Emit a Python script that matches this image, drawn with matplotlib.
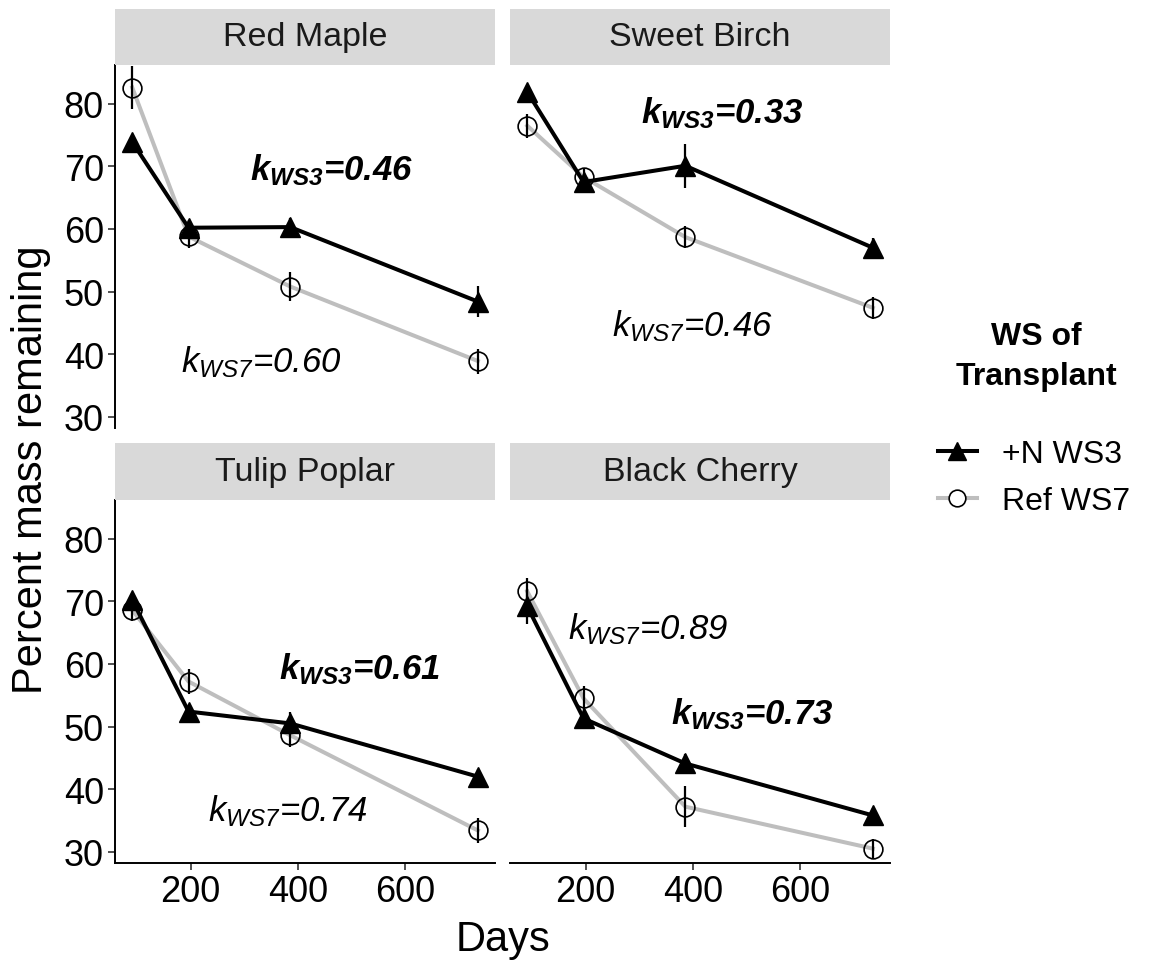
import matplotlib
matplotlib.use("Agg")
import matplotlib.pyplot as plt
from matplotlib.lines import Line2D

plt.rcParams['font.family'] = ['Liberation Sans', 'DejaVu Sans']
plt.rcParams['mathtext.fontset'] = 'custom'
plt.rcParams['mathtext.rm'] = 'Liberation Sans'
plt.rcParams['mathtext.sf'] = 'Liberation Sans:italic'
plt.rcParams['mathtext.bf'] = 'Liberation Sans:italic:bold'

# sampling days and species (facet order)
days = [91, 196, 386, 736]
species = ['Red Maple', 'Sweet Birch', 'Tulip Poplar', 'Black Cherry']

# +N WS3 transplant: mean percent mass remaining and SE
ws3_mean = [[73.9, 60.2, 60.3, 48.4],
            [81.9, 67.5, 70.1, 57.0],
            [70.2, 52.4, 50.5, 42.0],
            [69.2, 51.3, 44.1, 35.8]]
ws3_se = [[1.0, 1.2, 1.5, 2.5],
          [0.8, 1.3, 3.5, 1.5],
          [1.0, 1.0, 1.8, 1.2],
          [2.8, 1.5, 1.5, 1.2]]

# Ref WS7 transplant
ws7_mean = [[82.6, 58.8, 50.8, 38.9],
            [76.5, 68.3, 58.7, 47.4],
            [68.6, 57.2, 48.6, 33.4],
            [71.6, 54.5, 37.2, 30.5]]
ws7_se = [[3.5, 1.8, 2.3, 2.0],
          [1.9, 1.5, 1.8, 1.8],
          [1.7, 2.0, 1.8, 2.0],
          [2.2, 2.0, 3.3, 1.5]]

# decay constants
k_ws3 = ['0.46', '0.33', '0.61', '0.73']
k_ws7 = ['0.60', '0.46', '0.74', '0.89']

# where the k labels sit in each panel (days, percent)
k_ws3_pos = [(464, 69.6), (455, 78.6), (516, 59.4), (511, 52.2)]
k_ws7_pos = [(332, 38.9), (399, 44.7), (381, 36.6), (317, 65.8)]

W, H = 1151, 962
fig = plt.figure(figsize=(W / 100, H / 100), dpi=100)

panel_x = [115, 510, 115, 510]
panel_top = [66, 66, 501, 501]
strip_top = [10, 10, 444, 444]
pw, ph = 380, 363

for i, name in enumerate(species):
    x0 = panel_x[i]
    ax = fig.add_axes([x0 / W, (H - panel_top[i] - ph) / H, pw / W, ph / H])

    ax.plot(days, ws7_mean[i], color='#BEBEBE', lw=2.9, zorder=2)
    ax.plot(days, ws3_mean[i], color='black', lw=2.9, zorder=3)
    ax.plot(days, ws7_mean[i], 'o', mfc='none', mec='black', ms=13.5,
            mew=1.2, zorder=4)
    ax.plot(days, ws3_mean[i], '^', color='black', ms=14, zorder=5)
    ax.errorbar(days, ws7_mean[i], yerr=ws7_se[i], fmt='none',
                ecolor='black', elinewidth=1.6, capsize=0, zorder=6)
    ax.errorbar(days, ws3_mean[i], yerr=ws3_se[i], fmt='none',
                ecolor='black', elinewidth=1.6, capsize=0, zorder=6)

    ax.text(*k_ws3_pos[i], r'$\mathbf{k_{WS3}}$=' + k_ws3[i],
            fontsize=25, fontweight='bold', style='italic',
            ha='center', va='center', zorder=7)
    ax.text(*k_ws7_pos[i], r'$\mathsf{k_{WS7}}$=' + k_ws7[i],
            fontsize=25, style='italic', ha='center', va='center', zorder=7)

    ax.set_xlim(58.8, 768)
    ax.set_ylim(28.2, 86.2)
    ax.set_xticks([200, 400, 600])
    ax.set_yticks([30, 40, 50, 60, 70, 80])
    ax.tick_params(labelsize=26, length=5, width=1.2, color='#333333',
                   labelcolor='black', pad=3)
    for s in ['top', 'right']:
        ax.spines[s].set_visible(False)
    for s in ['left', 'bottom']:
        ax.spines[s].set_linewidth(1.4)
    if i < 2:
        ax.spines['bottom'].set_visible(False)
        ax.tick_params(axis='x', bottom=False, labelbottom=False)
    if i % 2 == 1:
        ax.spines['left'].set_visible(False)
        ax.tick_params(axis='y', left=False, labelleft=False)

    # facet strip
    sh = panel_top[i] - strip_top[i]
    sax = fig.add_axes([x0 / W, (H - panel_top[i]) / H, pw / W, sh / H])
    sax.set_facecolor('#D9D9D9')
    sax.set_xticks([])
    sax.set_yticks([])
    for s in sax.spines.values():
        s.set_visible(False)
    sax.text(0.5, 0.5, name, fontsize=24.5, color='#1A1A1A',
             ha='center', va='center', transform=sax.transAxes)

fig.text(31 / W, 1 - 470 / H, 'Percent mass remaining', fontsize=30,
         rotation=90, ha='center', va='center')
fig.text(503 / W, 1 - 940 / H, 'Days', fontsize=30, ha='center', va='center')

# legend
fig.text(1036 / W, 1 - 357 / H, 'WS of\nTransplant', fontsize=23,
         fontweight='bold', ha='center', va='center', multialignment='center',
         linespacing=1.43)
handles = [
    Line2D([], [], color='black', lw=2.9, marker='^', ms=13),
    Line2D([], [], color='#BEBEBE', lw=2.9, marker='o', ms=12,
           mfc='white', mec='black', mew=1.2),
]
fig.legend(handles, ['+N WS3', 'Ref WS7'], loc='upper left',
           bbox_to_anchor=(938 / W, 1 - 440 / H), frameon=False,
           fontsize=23, handlelength=1.22, handletextpad=0.78,
           labelspacing=0.53, borderpad=0, borderaxespad=0)

fig.savefig('out.png', dpi=100)
